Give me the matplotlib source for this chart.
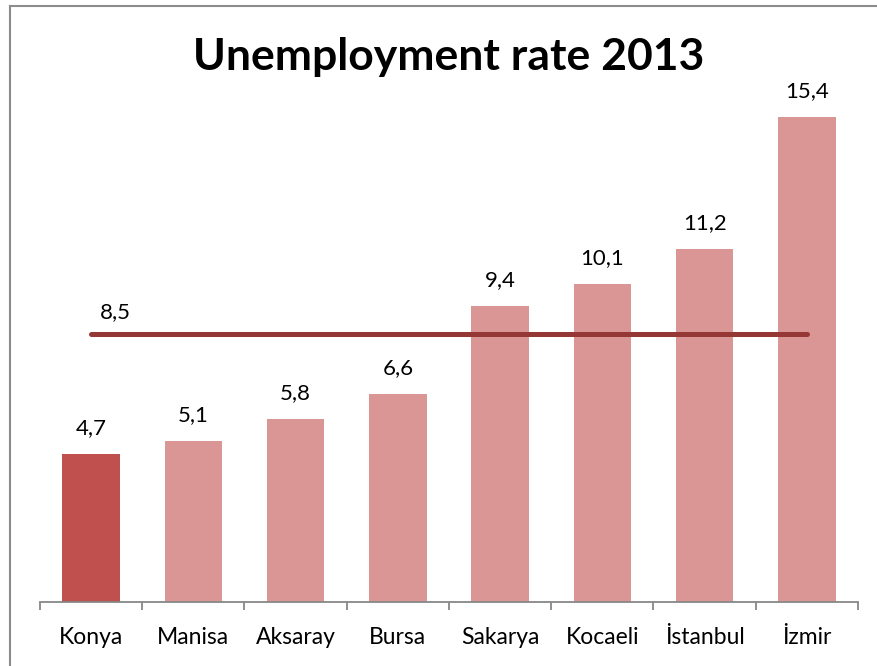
import matplotlib
matplotlib.use("Agg")
import matplotlib.pyplot as plt
from matplotlib.lines import Line2D

# Data
cities = ["Konya", "Manisa", "Aksaray", "Bursa", "Sakarya", "Kocaeli", "İstanbul", "İzmir"]
rates = [4.7, 5.1, 5.8, 6.6, 9.4, 10.1, 11.2, 15.4]
national_avg = 8.5
title = "Unemployment rate 2013"

W, H, DPI = 878, 666, 100
fig = plt.figure(figsize=(W / DPI, H / DPI), dpi=DPI)
plt.rcParams["font.family"] = ["Lato", "DejaVu Sans"]

px_per_unit = 31.5
ymax = 17.0
base_px = 602
left_px, right_px = 40, 858
ax = fig.add_axes([left_px / W, 1 - base_px / H,
                   (right_px - left_px) / W, ymax * px_per_unit / H])

colors = ["#C0504D"] + ["#D99694"] * (len(cities) - 1)
x = list(range(len(cities)))
bars = ax.bar(x, rates, width=0.56, color=colors, zorder=2)

for xi, v in zip(x, rates):
    ax.annotate(f"{v:.1f}".replace(".", ","), (xi, v), xytext=(0, 26),
                textcoords="offset pixels", ha="center", va="center",
                fontsize=16, color="#000000")

# Reference line for the average
ax.plot([x[0], x[-1]], [national_avg, national_avg], color="#953735",
        lw=3.6, solid_capstyle="round", zorder=3)
ax.annotate(f"{national_avg:.1f}".replace(".", ","), (x[0], national_avg),
            xytext=(24, 22), textcoords="offset pixels", ha="center",
            va="center", fontsize=16, color="#000000")

ax.set_xlim(-0.5, len(cities) - 0.5)
ax.set_ylim(0, ymax)
for s in ["left", "right", "top"]:
    ax.spines[s].set_visible(False)
ax.spines["bottom"].set_color("#878787")
ax.spines["bottom"].set_linewidth(1.3)
ax.set_yticks([])
ax.set_xticks(x)
ax.set_xticklabels(cities, fontsize=16.5)
ax.tick_params(axis="x", which="major", length=0, pad=18)
ax.set_xticks([i - 0.5 for i in range(len(cities) + 1)], minor=True)
ax.tick_params(axis="x", which="minor", length=6, width=1.3, color="#878787", direction="out")

fig.text(449 / W, 1 - 57 / H, title, ha="center", va="center",
         fontsize=32, fontweight="bold")

# Chart frame
fig.add_artist(Line2D([10 / W, 10 / W], [0, 1 - 6 / H], transform=fig.transFigure,
                      color="#8c8c8c", lw=1.5))
fig.add_artist(Line2D([10 / W, 1], [1 - 6 / H, 1 - 6 / H], transform=fig.transFigure,
                      color="#8c8c8c", lw=1.5))

fig.savefig("out.png", dpi=DPI)
